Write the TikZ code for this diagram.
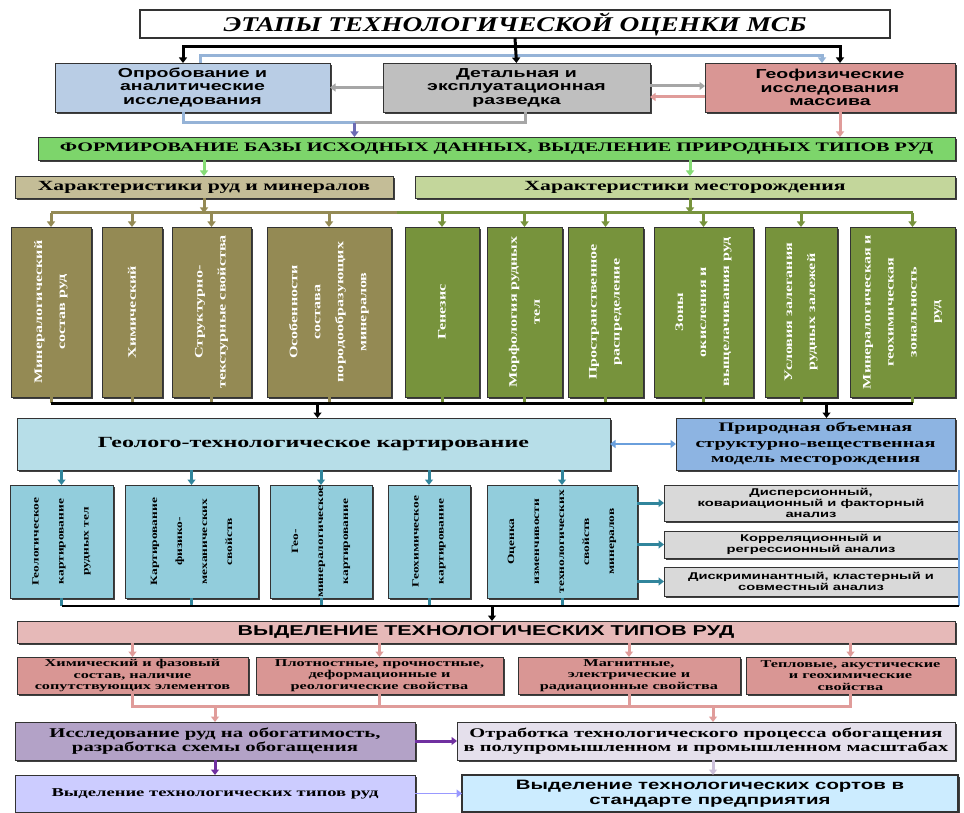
\documentclass[tikz,border=0pt]{standalone}
\usepackage{fontspec}
\setmainfont{Liberation Serif}[FakeStretch=1.55]
\setsansfont{Liberation Sans}[FakeStretch=1.5]
\newfontfamily\titlefont{Liberation Serif}[FakeStretch=1.3]
\newfontfamily\vertfont{Liberation Serif}[FakeStretch=1.4]
\usetikzlibrary{arrows.meta,shadows,calc}

% box fills
\definecolor{cOp}{HTML}{B9CDE5}
\definecolor{cRaz}{HTML}{BFBFBF}
\definecolor{cGeo}{HTML}{D99694}
\definecolor{cBase}{HTML}{7DD56B}
\definecolor{cOreBar}{HTML}{C4BD97}
\definecolor{cDepBar}{HTML}{C3D69B}
\definecolor{cOreCol}{HTML}{948A54}
\definecolor{cDepCol}{HTML}{77933C}
\definecolor{cMap}{HTML}{B7DEE8}
\definecolor{cModel}{HTML}{8DB4E2}
\definecolor{cMapCol}{HTML}{92CDDC}
\definecolor{cStat}{HTML}{D9D9D9}
\definecolor{cTypeBar}{HTML}{E6B9B8}
\definecolor{cProp}{HTML}{D99694}
\definecolor{cBenef}{HTML}{B3A2C7}
\definecolor{cPilot}{HTML}{E5E0EC}
\definecolor{cTypes}{HTML}{CCCCFF}
\definecolor{cGrades}{HTML}{CCECFF}
% connector colours
\definecolor{aBlue}{HTML}{95B3D7}
\definecolor{aGray}{HTML}{A6A6A6}
\definecolor{aPink}{HTML}{E09C9A}
\definecolor{aJoin}{HTML}{6C6CB4}
\definecolor{aGreen}{HTML}{86DC76}
\definecolor{aTeal}{HTML}{31859C}
\definecolor{aModel}{HTML}{6A9FDC}
\definecolor{aPurple}{HTML}{7030A0}
\definecolor{aLav}{HTML}{CCC0DA}
\definecolor{aPeri}{HTML}{9999FF}

\tikzset{
  plainbox/.style={draw=black!80, line width=0.8pt, anchor=north west,
    inner sep=1pt, outer sep=0pt, align=center},
  box/.style={plainbox, drop shadow={shadow xshift=1.8pt, shadow yshift=-1.8pt,
    fill=black!75, opacity=1}},
  vtext/.style={rotate=90, align=center, inner sep=0pt},
  conn/.style={line width=3pt},
  arr/.style={-{Triangle[length=5.5pt,width=8pt]}},
  rowtwo/.style={font=\sffamily\bfseries\fontsize{13}{13.5}\selectfont},
  oretext/.style={vtext, text=white, font=\vertfont\bfseries\fontsize{11.5}{23}\selectfont},
  maptext/.style={vtext, text=black, font=\vertfont\bfseries\fontsize{9.6}{25}\selectfont},
  stattext/.style={font=\sffamily\bfseries\fontsize{9.8}{11}\selectfont},
  proptext/.style={font=\bfseries\fontsize{10.5}{11.5}\selectfont},
}

\begin{document}
\begin{tikzpicture}[x=1pt, y=-1pt]
\fill[white] (0,0) rectangle (964,813);
\useasboundingbox (0,0) rectangle (964,813);

% ---- stages ----
\node[plainbox, fill=white, line width=1.8pt, minimum width=750pt, minimum height=28pt,
  font=\titlefont\bfseries\itshape\fontsize{21}{24}\selectfont] (title) at (140,10)
  {ЭТАПЫ ТЕХНОЛОГИЧЕСКОЙ ОЦЕНКИ МСБ};

\node[box, rowtwo, fill=cOp, minimum width=275pt, minimum height=49pt] (op) at (55,63)
  {Опробование и\\аналитические\\исследования};
\node[box, rowtwo, fill=cRaz, minimum width=267pt, minimum height=49pt] (raz) at (383,63)
  {Детальная и\\эксплуатационная\\разведка};
\node[box, rowtwo, fill=cGeo, minimum width=250pt, minimum height=49pt] (geo) at (705,63)
  {Геофизические\\исследования\\массива};

\coordinate (topBus) at ($(title.south)+(0,9)$);
\draw[conn, aBlue, arr] ([xshift=8pt]op.north) -- ++(0,-7) -| ([xshift=-8pt]geo.north);
\draw[conn, arr] (title.south) -- (raz.north);
\draw[conn, arr] (topBus) -| ([xshift=-9.5pt]op.north);
\draw[conn, arr] (topBus) -| ([xshift=10pt]geo.north);

\draw[conn, aGray, arr] (raz.west) -- (op.west -| op.east);
\draw[conn, aGray, arr] ([yshift=1.5pt]raz.east) -- ([yshift=1.5pt]geo.west);
\draw[conn, aPink, arr] ([yshift=-9.5pt]geo.west) -- ([yshift=-9.5pt]raz.east);

% ---- base data ----
\node[box, fill=cBase, minimum width=917pt, minimum height=23pt,
  font=\bfseries\fontsize{13}{14}\selectfont] (base) at (38,137)
  {ФОРМИРОВАНИЕ БАЗЫ ИСХОДНЫХ ДАННЫХ, ВЫДЕЛЕНИЕ ПРИРОДНЫХ ТИПОВ РУД};

\coordinate (rowJoin) at ($(op.south)!0.5!(raz.south)+(0,11)$);
\draw[conn, aBlue] ([xshift=-9.5pt]op.south) |- (rowJoin);
\draw[conn, aGray] ([xshift=8.5pt]raz.south) |- (rowJoin);
\draw[conn, aJoin, arr] (rowJoin) -- (rowJoin |- base.north);
\draw[conn, aPink, arr] ([xshift=10pt]geo.south) -- ([xshift=10pt]geo.south |- base.north);

\node[box, fill=cOreBar, minimum width=378pt, minimum height=22pt,
  font=\bfseries\fontsize{14}{15}\selectfont] (ore) at (15,176)
  {Характеристики руд и минералов};
\node[box, fill=cDepBar, minimum width=540pt, minimum height=22pt,
  font=\bfseries\fontsize{14}{15}\selectfont] (dep) at (415,176)
  {Характеристики месторождения};

\draw[conn, aGreen, arr] (base.south -| ore.north) -- (ore.north);
\draw[conn, aGreen, arr] ([xshift=5pt]base.south -| dep.north) -- ([xshift=5pt]dep.north);

% ---- characteristic columns ----
\node[box, fill=cOreCol, minimum width=80pt, minimum height=170pt] (c1) at (11,227) {};
\node[box, fill=cOreCol, minimum width=60pt, minimum height=170pt] (c2) at (102,227) {};
\node[box, fill=cOreCol, minimum width=79pt, minimum height=170pt] (c3) at (172,227) {};
\node[box, fill=cOreCol, minimum width=124pt, minimum height=170pt] (c4) at (267,227) {};
\node[box, fill=cDepCol, minimum width=74pt, minimum height=170pt] (g1) at (405,227) {};
\node[box, fill=cDepCol, minimum width=75pt, minimum height=170pt] (g2) at (487,227) {};
\node[box, fill=cDepCol, minimum width=75pt, minimum height=170pt] (g3) at (568,227) {};
\node[box, fill=cDepCol, minimum width=99pt, minimum height=170pt] (g4) at (654,227) {};
\node[box, fill=cDepCol, minimum width=72pt, minimum height=170pt] (g5) at (765,227) {};
\node[box, fill=cDepCol, minimum width=105pt, minimum height=170pt] (g6) at (850,227) {};

\node[oretext] (c1t) at (c1.center) {Минералогический\\состав руд};
\node[oretext] (c2t) at (c2.center) {Химический};
\node[oretext] (c3t) at (c3.center) {Структурно-\\текстурные свойства};
\node[oretext] (c4t) at (c4.center) {Особенности\\состава\\породообразующих\\минералов};
\node[oretext] (g1t) at (g1.center) {Генезис};
\node[oretext] (g2t) at (g2.center) {Морфология рудных\\тел};
\node[oretext] (g3t) at (g3.center) {Пространственное\\распределение};
\node[oretext] (g4t) at (g4.center) {Зоны\\окисления и\\выщелачивания руд};
\node[oretext] (g5t) at (g5.center) {Условия залегания\\рудных залежей};
\node[oretext] (g6t) at (g6.center) {Минералогическая и\\геохимическая\\зональность\\руд};

\coordinate (oreBus) at ($(c1.north)+(0,-14)$);
\coordinate (busSplit) at ($(c4.north)!0.6!(g1.north)+(0,-14)$);
\draw[conn, cOreCol] (oreBus) -- (busSplit);
\draw[conn, cDepCol] (busSplit) -- ([xshift=10pt]oreBus -| g6.north);
\draw[conn, cOreCol, arr] (ore.south) -- (ore.south |- oreBus);
\draw[conn, cDepCol, arr] ([xshift=5pt]dep.south) -- ([xshift=5pt]dep.south |- oreBus);
\foreach \c in {c1,c2,c3,c4}
  \draw[conn, cOreCol, arr] (oreBus -| \c.north) -- (\c.north);
\foreach \c in {g1,g2,g3,g4,g5}
  \draw[conn, cDepCol, arr] (oreBus -| \c.north) -- (\c.north);
\draw[conn, cDepCol, arr] ([xshift=10pt]oreBus -| g6.north) -- ([xshift=10pt]g6.north);

\coordinate (colBus) at ($(c1.south)+(0,6)$);
\foreach \c in {c1,c2,c3,c4}
  \draw[conn, cOreCol] (\c.south) -- (colBus -| \c.south);
\foreach \c in {g1,g2,g3,g4,g5}
  \draw[conn, cDepCol] (\c.south) -- (colBus -| \c.south);
\draw[conn, cDepCol] ([xshift=10pt]g6.south) -- ([xshift=10pt]colBus -| g6.south);
\draw[conn] (colBus) -- ([xshift=10pt]colBus -| g6.south);

% ---- mapping and model ----
\node[box, fill=cMap, minimum width=593pt, minimum height=52pt,
  font=\bfseries\fontsize{15.5}{17}\selectfont] (map) at (17,418)
  {Геолого-технологическое картирование};
\node[box, fill=cModel, minimum width=279pt, minimum height=52pt,
  font=\bfseries\fontsize{13}{15.5}\selectfont] (model) at (676,418)
  {Природная объемная\\структурно-вещественная\\модель месторождения};

\draw[conn, arr] ([xshift=4pt]colBus -| map.north) -- ([xshift=4pt]map.north);
\draw[conn, arr] ([xshift=11pt]colBus -| model.north) -- ([xshift=11pt]model.north);
\draw[line width=2.4pt, aModel, {Triangle[length=5.5pt,width=8pt]}-{Triangle[length=5.5pt,width=8pt]}]
  (map.east) -- (model.west);

\node[box, fill=cMapCol, minimum width=103pt, minimum height=113pt] (b1) at (10,485) {};
\node[box, fill=cMapCol, minimum width=133pt, minimum height=113pt] (b2) at (125,485) {};
\node[box, fill=cMapCol, minimum width=102pt, minimum height=113pt] (b3) at (270,485) {};
\node[box, fill=cMapCol, minimum width=82pt, minimum height=113pt] (b4) at (388,485) {};
\node[box, fill=cMapCol, minimum width=150pt, minimum height=113pt] (b5) at (487,485) {};

\node[maptext] (b1t) at (b1.center) {Геологическое\\картирование\\рудных тел};
\node[maptext] (b2t) at (b2.center) {Картирование\\физико-\\механических\\свойств};
\node[maptext] (b3t) at (b3.center) {Гео-\\минералогическое\\картирование};
\node[maptext] (b4t) at (b4.center) {Геохимическое\\картирование};
\node[maptext] (b5t) at (b5.center) {Оценка\\изменчивости\\технологических\\свойств\\минералов};

\foreach \c in {b1,b2,b3,b4,b5}
  \draw[conn, aTeal, arr] (map.south -| \c.north) -- (\c.north);

\node[box, stattext, fill=cStat, minimum width=294pt, minimum height=36pt] (sa) at (664,485)
  {Дисперсионный,\\ковариационный и факторный\\анализ};
\node[box, stattext, fill=cStat, minimum width=294pt, minimum height=27pt] (sb) at (664,531)
  {Корреляционный и\\регрессионный анализ};
\node[box, stattext, fill=cStat, minimum width=294pt, minimum height=29pt] (sc) at (664,567)
  {Дискриминантный, кластерный и\\совместный анализ};
\foreach \s in {sa,sb,sc}
  \draw[conn, aTeal, arr] (\s.west -| b5.east) -- (\s.west);

\coordinate (modelDrop) at ($(model.south east)+(4,0)$);
\coordinate (mapBus) at ($(b1.south)+(0,8)$);
\foreach \c in {b1,b2,b3,b4,b5}
  \draw[conn, aTeal] (\c.south) -- (mapBus -| \c.south);
\draw[line width=1.2pt, aModel] (modelDrop) -- (modelDrop |- mapBus);
\draw[line width=1.8pt] (mapBus) -- (mapBus -| modelDrop);

% ---- technological types ----
\node[box, fill=cTypeBar, minimum width=938pt, minimum height=22pt,
  font=\sffamily\bfseries\fontsize{14.3}{15}\selectfont] (types) at (17,621)
  {ВЫДЕЛЕНИЕ ТЕХНОЛОГИЧЕСКИХ ТИПОВ РУД};
\draw[conn, arr] ([xshift=6pt]mapBus -| types.north) -- ([xshift=6pt]types.north);

\node[box, proptext, fill=cProp, minimum width=231pt, minimum height=37pt] (p1) at (17,657)
  {Химический и фазовый\\состав, наличие\\сопутствующих элементов};
\node[box, proptext, fill=cProp, minimum width=247pt, minimum height=37pt] (p2) at (256,657)
  {Плотностные, прочностные,\\деформационные и\\реологические свойства};
\node[box, proptext, fill=cProp, minimum width=222pt, minimum height=37pt] (p3) at (518,657)
  {Магнитные,\\электрические и\\радиационные свойства};
\node[box, proptext, fill=cProp, minimum width=209pt, minimum height=37pt] (p4) at (746,657)
  {Тепловые, акустические\\и геохимические\\свойства};
\foreach \p in {p1,p2,p3,p4}
  \draw[conn, aPink, arr] (types.south -| \p.north) -- (\p.north);

% ---- beneficiation ----
\node[box, fill=cBenef, minimum width=400pt, minimum height=38pt,
  font=\bfseries\fontsize{13.4}{14.5}\selectfont] (benef) at (15,722)
  {Исследование руд на обогатимость,\\разработка схемы обогащения};
\node[box, fill=cPilot, minimum width=498pt, minimum height=38pt,
  font=\bfseries\fontsize{13.2}{14.5}\selectfont] (pilot) at (457,722)
  {Отработка технологического процесса обогащения\\в полупромышленном и промышленном масштабах};

\coordinate (propJoin) at ($(p1.south)+(0,12)$);
\coordinate (pilotIn) at ($(pilot.north)+(7,0)$);
\draw[conn, aPink] (p1.south) -- (propJoin) -- (propJoin -| p4.south) -- (p4.south);
\draw[conn, aPink] (p2.south) -- (propJoin -| p2.south);
\draw[conn, aPink] (p3.south) -- (propJoin -| p3.south);
\draw[conn, aPink, arr] (propJoin -| benef.north) -- (benef.north);
\draw[conn, aPink, arr] (propJoin -| pilotIn) -- (pilotIn);
\draw[conn, aPurple, arr] (benef.east) -- (pilot.west);

\node[box, fill=cTypes, minimum width=400pt, minimum height=37pt,
  font=\bfseries\fontsize{12}{13}\selectfont] (otypes) at (15,775)
  {Выделение технологических типов руд};
\node[box, fill=cGrades, line width=1.8pt, minimum width=496pt, minimum height=37pt,
  font=\sffamily\bfseries\fontsize{13.6}{15}\selectfont] (grades) at (462,775)
  {Выделение технологических сортов в\\стандарте предприятия};

\draw[conn, aPurple, arr] (benef.south) -- (otypes.north);
\draw[conn, aLav, arr] ([xshift=7pt]pilot.south) -- ([xshift=7pt]pilot.south |- grades.north);
\draw[line width=1.8pt, aPeri, arr] (otypes.east) -- (grades.west);
\end{tikzpicture}
\end{document}
